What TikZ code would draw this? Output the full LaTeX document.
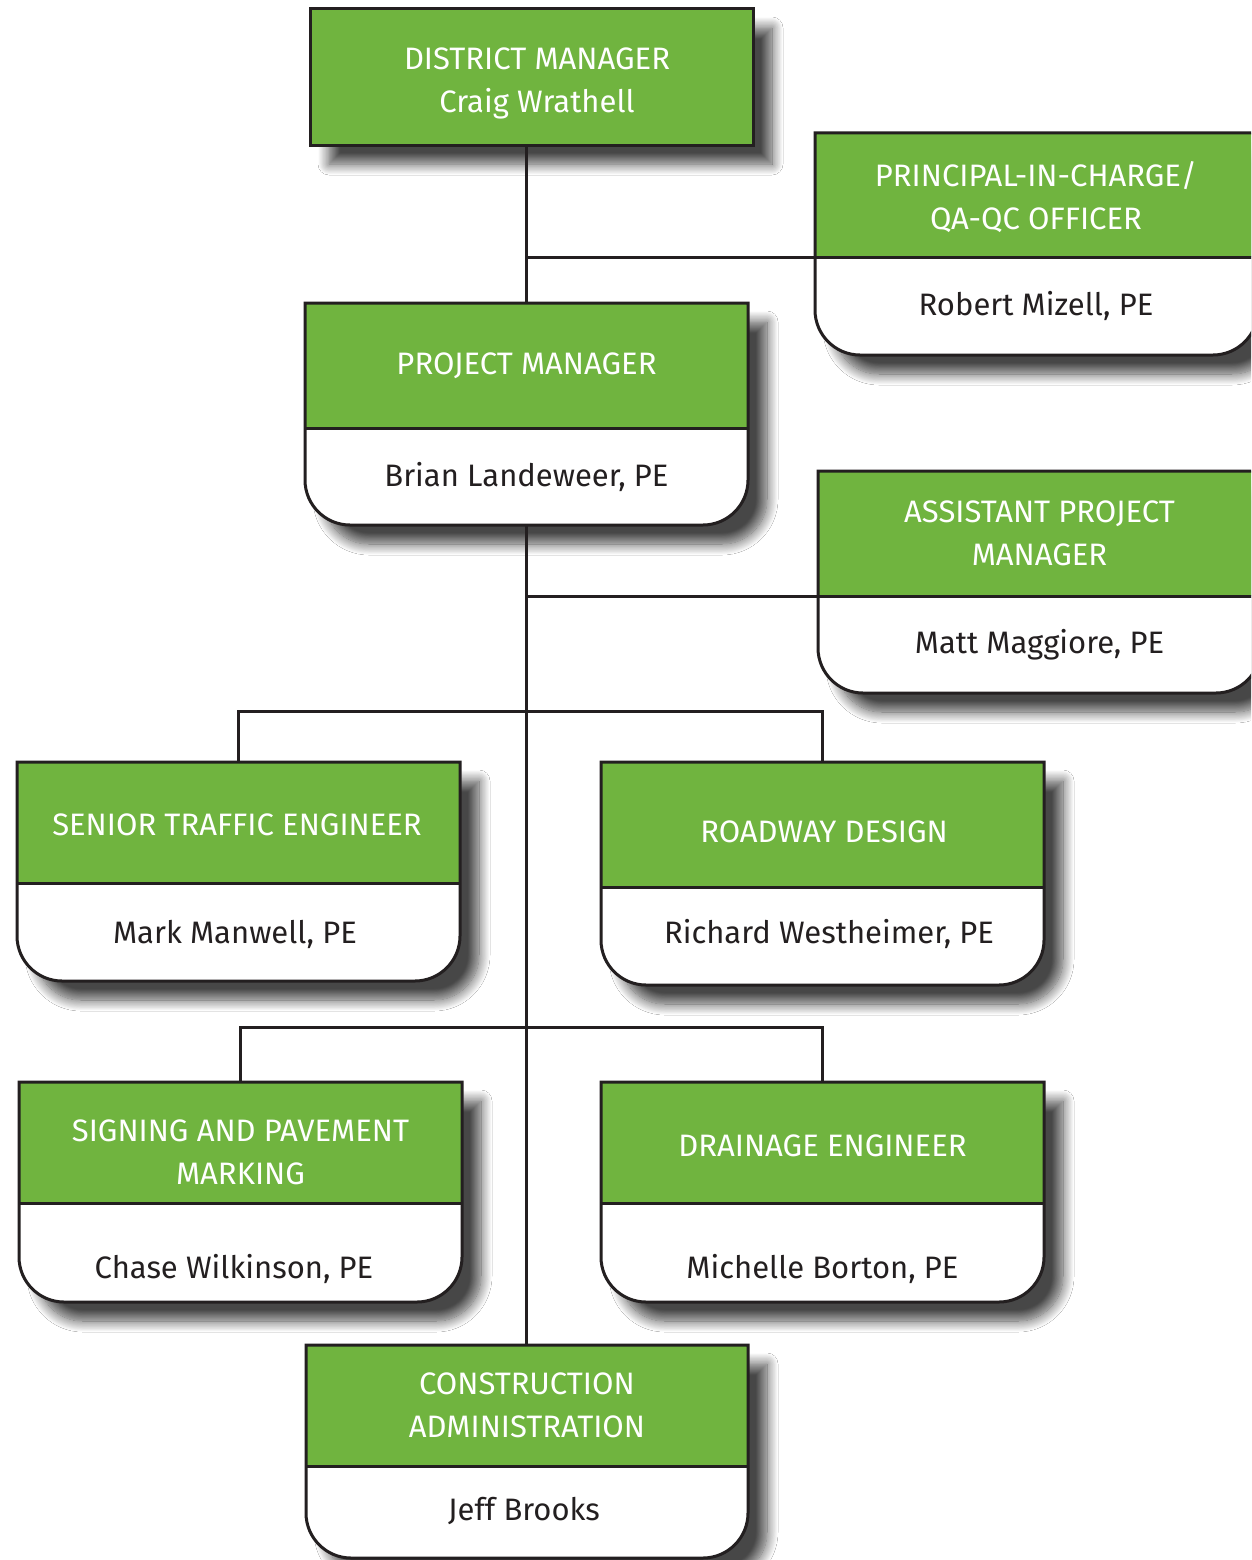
\documentclass[tikz,border=0pt]{standalone}
\usepackage{fontspec}
\setmainfont{Fira Sans}
\usetikzlibrary{shadows.blur}
\definecolor{boxgreen}{HTML}{70B43F}
\definecolor{ink}{HTML}{231F20}
\tikzset{
  boxshadow/.style={blur shadow={shadow xshift=19pt, shadow yshift=-19pt, shadow blur radius=11pt, shadow blur steps=14, shadow opacity=72}},
  outline/.style={draw=ink, line width=3pt, line join=miter},
  conn/.style={draw=ink, line width=3pt},
  titletext/.style={text=white, align=center, font=\fontsize{31}{43}\selectfont, inner sep=0pt},
  nametext/.style={text=ink, align=center, font=\fontsize{31}{43}\selectfont, inner sep=0pt},
  frame/.style={inner sep=0pt, outer sep=0pt},
}
% id, xl, xr, ytop, ydiv, ybot
\newcommand\orgbox[6]{%
  \node[frame, minimum width={(#3-#2)*1pt}, minimum height={(#6-#4)*1pt}] (#1) at ({(#2+#3)/2},{(#4+#6)/2}) {};
  \coordinate (#1-div) at (#2,#5);
  \path[boxshadow, fill=white] (#2,#4) -- (#3,#4) -- (#3,{#6-45}) .. controls (#3,{#6-20.2}) and ({#3-20.2},#6) .. ({#3-45},#6) -- ({#2+45},#6) .. controls ({#2+20.2},#6) and (#2,{#6-20.2}) .. (#2,{#6-45}) -- cycle;
  \fill[boxgreen] (#2,#4) rectangle (#3,#5);
  \draw[outline] (#2,#5) -- (#3,#5);
  \draw[outline] (#2,#4) -- (#3,#4) -- (#3,{#6-45}) .. controls (#3,{#6-20.2}) and ({#3-20.2},#6) .. ({#3-45},#6) -- ({#2+45},#6) .. controls ({#2+20.2},#6) and (#2,{#6-20.2}) .. (#2,{#6-45}) -- cycle;
}
\begin{document}
\begin{tikzpicture}[x=1pt,y=-1pt]
\useasboundingbox (0,0) rectangle (1251,1560);
\clip (0,0) rectangle (1251,1560);
\fill[white] (0,0) rectangle (1251,1560);

\coordinate (j1) at (526.5,711);
\coordinate (j2) at (526.5,1027);

% District manager
\node[frame, minimum width=443pt, minimum height=136pt] (dm) at (531.5,77) {};
\path[boxshadow, fill=boxgreen] (dm.north west) rectangle (dm.south east);
\draw[outline] (dm.north west) rectangle (dm.south east);
\node[titletext] (dm-t) at (537,83) {DISTRICT MANAGER\\Craig Wrathell};

\orgbox{pic}{815}{1258}{133}{257}{355}
\orgbox{pm}{305}{748}{303}{428}{525}
\orgbox{apm}{818}{1261}{471}{596}{693}
\orgbox{stf}{17}{460}{762}{883}{981}
\orgbox{rd}{601}{1044}{762}{887}{985}
\orgbox{spm}{19}{462}{1082}{1203}{1302}
\orgbox{dr}{601}{1044}{1082}{1203}{1302}
\orgbox{ca}{306}{748}{1345}{1466}{1558}

% titles
\node[titletext] (pic-t) at (1036,197) {PRINCIPAL-IN-CHARGE/\\QA-QC OFFICER};
\node[titletext] (pm-t) at (526.5,365.5) {PROJECT MANAGER};
\node[titletext] (apm-t) at (1039.5,533.5) {ASSISTANT PROJECT\\MANAGER};
\node[titletext] (stf-t) at (237,824.5) {SENIOR TRAFFIC ENGINEER};
\node[titletext] (rd-t) at (824,831.5) {ROADWAY DESIGN};
\node[titletext] (spm-t) at (240.5,1152.5) {SIGNING AND PAVEMENT\\MARKING};
\node[titletext] (dr-t) at (822.5,1145.5) {DRAINAGE ENGINEER};
\node[titletext] (ca-t) at (527,1405.5) {CONSTRUCTION\\ADMINISTRATION};

% names
\node[nametext] (pic-n) at (1036,306) {Robert Mizell, PE};
\node[nametext] (pm-n) at (526.5,476.5) {Brian Landeweer, PE};
\node[nametext] (apm-n) at (1039.5,645) {Matt Maggiore, PE};
\node[nametext] (stf-n) at (235,934) {Mark Manwell, PE};
\node[nametext] (rd-n) at (829,934) {Richard Westheimer, PE};
\node[nametext] (spm-n) at (234,1268.5) {Chase Wilkinson, PE};
\node[nametext] (dr-n) at (822.5,1268.5) {Michelle Borton, PE};
\node[nametext] (ca-n) at (524,1511) {Jeff Brooks};

% connectors
\draw[conn] (pm.north |- dm.south) -- (pm.north);
\draw[conn] (pm.north |- pic-div) -- (pic-div);
\draw[conn] (pm.south) -- (pm.south |- ca.north);
\draw[conn] (pm.south |- apm-div) -- (apm-div);
\draw[conn] (stf.north) |- (j1) -| (rd.north);
\draw[conn] (spm.north) |- (j2) -| (dr.north);
\end{tikzpicture}
\end{document}
